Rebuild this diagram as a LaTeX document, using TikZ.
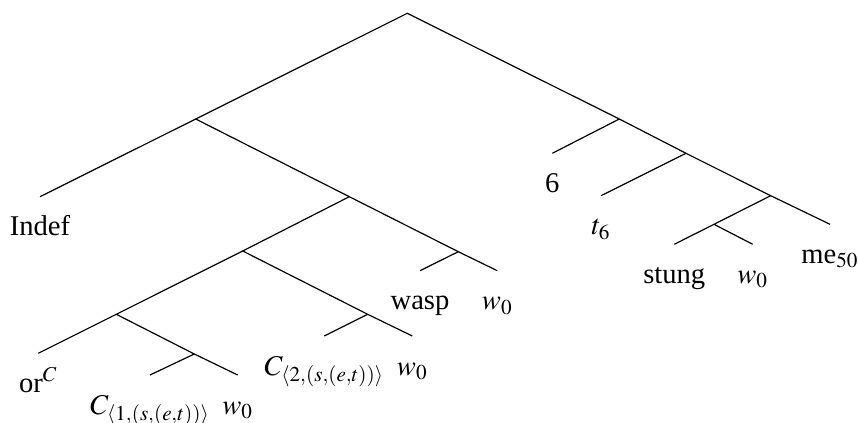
\documentclass[tikz,border=0pt]{standalone}
\usepackage{mathptmx}
\usepackage[no-math]{fontspec}
\setmainfont{Liberation Serif}
\usepackage{tikz}
\usetikzlibrary{positioning}

\begin{document}
\begin{tikzpicture}[
    x=0.5pt, y=-0.5pt,
    line width=0.6pt,
    leaf/.style={anchor=base, inner sep=0pt, font=\fontsize{14.3pt}{17pt}\selectfont},
    lab/.style={yshift=-19.5pt}
  ]
    \useasboundingbox (0,0) rectangle (859,423);

    % branching points
    \coordinate (top) at (407.3,13.3);
    \coordinate (dp) at (195.7,119);
    \coordinate (np) at (349.3,196.7);
    \coordinate (cp) at (242.7,251);
    \coordinate (orp) at (116.3,314.3);
    \coordinate (c1p) at (194.3,354);
    \coordinate (c2p) at (367.7,314.3);
    \coordinate (wp) at (458.3,251.7);
    \coordinate (lam) at (619.3,119);
    \coordinate (vp) at (686,153.3);
    \coordinate (vb) at (770.7,195.7);
    \coordinate (vs) at (714,224.3);

    % leaf ends
    \coordinate (e-indef) at (40,196.7);
    \coordinate (e-or) at (38.3,353.3);
    \coordinate (e-c1) at (150,375);
    \coordinate (e-w1) at (237.7,375);
    \coordinate (e-c2) at (324.3,336);
    \coordinate (e-w2) at (412.3,336);
    \coordinate (e-wasp) at (420,270.7);
    \coordinate (e-w3) at (497.3,270.7);
    \coordinate (e-six) at (552.3,153.3);
    \coordinate (e-t) at (601,195.7);
    \coordinate (e-stung) at (674.3,244.3);
    \coordinate (e-w4) at (752.7,244.3);
    \coordinate (e-me) at (830,224.3);

    % leaves
    \node[leaf] (indef) at ([lab]e-indef) {Indef};
    \node[leaf] (or) at ([lab]e-or) {or$^C$};
    \node[leaf] (c1) at ([lab]e-c1) {$C_{\langle 1,(s,(e,t))\rangle}$};
    \node[leaf] (w1) at ([lab]e-w1) {$w_0$};
    \node[leaf] (c2) at ([lab]e-c2) {$C_{\langle 2,(s,(e,t))\rangle}$};
    \node[leaf] (w2) at ([lab]e-w2) {$w_0$};
    \node[leaf] (wasp) at ([lab]e-wasp) {wasp};
    \node[leaf] (w3) at ([lab]e-w3) {$w_0$};
    \node[leaf] (six) at ([lab]e-six) {6};
    \node[leaf] (t) at ([lab]e-t) {$t_6$};
    \node[leaf] (stung) at ([lab]e-stung) {stung};
    \node[leaf] (w4) at ([lab]e-w4) {$w_0$};
    \node[leaf] (me) at ([lab]e-me) {me$_{50}$};

    % branches
    \draw (e-indef) -- (dp) -- (top) -- (lam) -- (vp) -- (vb) -- (e-me);
    \draw (dp) -- (np) -- (wp) -- (e-w3);
    \draw (np) -- (cp) -- (c2p) -- (e-w2);
    \draw (cp) -- (orp) -- (c1p) -- (e-w1);
    \draw (orp) -- (e-or);
    \draw (c1p) -- (e-c1);
    \draw (c2p) -- (e-c2);
    \draw (wp) -- (e-wasp);
    \draw (lam) -- (e-six);
    \draw (vp) -- (e-t);
    \draw (vb) -- (vs) -- (e-w4);
    \draw (vs) -- (e-stung);
  \end{tikzpicture}
\end{document}
